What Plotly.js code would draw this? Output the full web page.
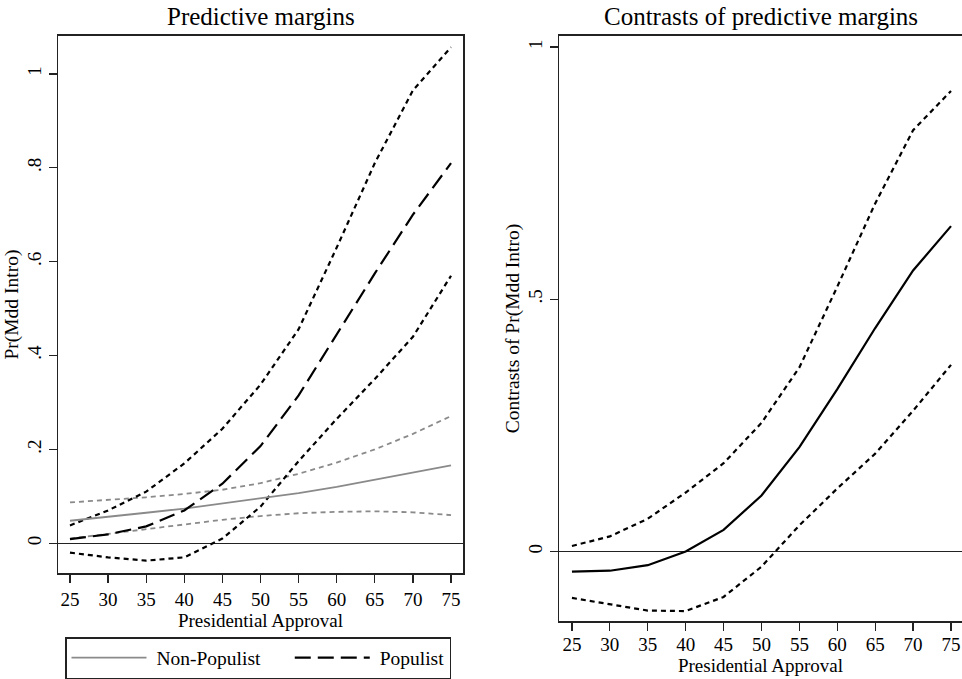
<!DOCTYPE html>
<html>
<head>
<meta charset="utf-8">
<script src="https://cdn.plot.ly/plotly-3.0.1.min.js"></script>
<style>html,body{margin:0;padding:0;background:#fff;}#chart{width:962px;height:679px;}</style>
</head>
<body>
<div id="chart"></div>
<script>
// ---- data ----
var approval = [25, 30, 35, 40, 45, 50, 55, 60, 65, 70, 75];

var nonPopMean  = [0.048, 0.056, 0.065, 0.074, 0.085, 0.096, 0.107, 0.120, 0.135, 0.150, 0.166];
var nonPopUpper = [0.087, 0.092, 0.098, 0.105, 0.114, 0.128, 0.148, 0.172, 0.200, 0.233, 0.271];
var nonPopLower = [0.010, 0.020, 0.030, 0.040, 0.050, 0.058, 0.064, 0.067, 0.068, 0.066, 0.060];

var popMean  = [0.009, 0.019, 0.036, 0.070, 0.127, 0.207, 0.315, 0.445, 0.575, 0.700, 0.810];
var popUpper = [0.038, 0.070, 0.110, 0.170, 0.244, 0.338, 0.456, 0.630, 0.810, 0.965, 1.057];
var popLower = [-0.020, -0.030, -0.037, -0.030, 0.010, 0.078, 0.175, 0.265, 0.350, 0.440, 0.570];

var contrast      = [-0.040, -0.038, -0.027, 0.000, 0.043, 0.111, 0.207, 0.322, 0.443, 0.557, 0.645];
var contrastUpper = [0.011, 0.030, 0.065, 0.117, 0.175, 0.255, 0.365, 0.525, 0.690, 0.835, 0.913];
var contrastLower = [-0.092, -0.105, -0.117, -0.118, -0.090, -0.030, 0.052, 0.125, 0.194, 0.279, 0.370];

var xTicks = [25, 30, 35, 40, 45, 50, 55, 60, 65, 70, 75];
var yTicksLeft = [0, 0.2, 0.4, 0.6, 0.8, 1];
var yTickTextLeft = ['0', '.2', '.4', '.6', '.8', '1'];
var yTicksRight = [0, 0.5, 1];
var yTickTextRight = ['0', '.5', '1'];

// ---- styles ----
var FONT = 'Liberation Serif, Times New Roman, serif';
var GRAY = '#8a8a8a';
var SHORT = '5px,4px';
var LONG = '16px,7px';
var NB = '\u00a0';

function line(x, y, color, dash, width, name, legend, xa, ya) {
  return {
    type: 'scatter', mode: 'lines', x: x, y: y, name: name || '',
    showlegend: !!legend, hoverinfo: 'skip',
    xaxis: xa || 'x', yaxis: ya || 'y',
    line: {color: color, dash: dash, width: width}
  };
}

var traces = [
  line(approval, nonPopUpper, GRAY, SHORT, 1.8),
  line(approval, nonPopLower, GRAY, SHORT, 1.8),
  line(approval, popUpper, '#000', SHORT, 2.2),
  line(approval, popLower, '#000', SHORT, 2.2),
  line(approval, nonPopMean, GRAY, 'solid', 1.8, NB + 'Non-Populist' + NB + NB + NB + NB + NB, true),
  line(approval, popMean, '#000', LONG, 2.2, NB + 'Populist', true),
  line(approval, contrastUpper, '#000', SHORT, 2.2, '', false, 'x2', 'y2'),
  line(approval, contrastLower, '#000', SHORT, 2.2, '', false, 'x2', 'y2'),
  line(approval, contrast, '#000', 'solid', 2.2, '', false, 'x2', 'y2')
];

var axisCommon = {
  showgrid: false, showline: true, linecolor: '#222', linewidth: 1.5,
  ticks: 'outside', ticklen: 8, tickwidth: 1.2, tickcolor: '#222',
  tickfont: {family: FONT, size: 19, color: '#000'},
  zeroline: false, fixedrange: true
};

function merge(a, b) { var o = {}; for (var k in a) o[k] = a[k]; for (var k2 in b) o[k2] = b[k2]; return o; }

var layout = {
  width: 962, height: 679,
  margin: {l: 0, r: 0, t: 0, b: 0},
  paper_bgcolor: '#fff', plot_bgcolor: '#fff',
  font: {family: FONT, color: '#000'},
  xaxis: merge(axisCommon, {
    domain: [58 / 962, 463 / 962], range: [23.43, 76.57], mirror: true,
    tickvals: xTicks, anchor: 'y',
    title: {text: 'Presidential Approval', font: {family: FONT, size: 19}, standoff: 0}
  }),
  yaxis: merge(axisCommon, {
    domain: [(679 - 575) / 679, (679 - 36) / 679], range: [-0.064, 1.081], mirror: true,
    tickvals: yTicksLeft, ticktext: yTickTextLeft, tickangle: -90, anchor: 'x',
    zeroline: true, zerolinecolor: '#222', zerolinewidth: 1.3,
    title: {text: 'Pr(Mdd Intro)', font: {family: FONT, size: 19.5}, standoff: 0}
  }),
  xaxis2: merge(axisCommon, {
    domain: [559 / 962, 1], range: [23.29, 76.45], mirror: true,
    tickvals: xTicks, anchor: 'y2', ticklabelstandoff: -2,
    title: {text: 'Presidential Approval', font: {family: FONT, size: 19}, standoff: 0}
  }),
  yaxis2: merge(axisCommon, {
    domain: [(679 - 623) / 679, (679 - 36) / 679], range: [-0.138, 1.022], mirror: false,
    tickvals: yTicksRight, ticktext: yTickTextRight, tickangle: -90, anchor: 'x2',
    zeroline: true, zerolinecolor: '#222', zerolinewidth: 1.3,
    title: {text: 'Contrasts of Pr(Mdd Intro)', font: {family: FONT, size: 19.5}, standoff: 0}
  }),
  showlegend: true,
  legend: {
    orientation: 'h', x: 65 / 962, xanchor: 'left', y: 1 - 639 / 679, yanchor: 'top',
    bordercolor: '#222', borderwidth: 1.5, bgcolor: 'rgba(255,255,255,0)',
    font: {family: FONT, size: 19.5, color: '#000'},
    itemwidth: 75, traceorder: 'normal', itemclick: false, itemdoubleclick: false
  },
  annotations: [
    {text: 'Predictive margins', xref: 'paper', yref: 'paper', x: (58 + 463) / 2 / 962, y: 1 - 17 / 679,
     xanchor: 'center', yanchor: 'middle', showarrow: false, font: {family: FONT, size: 25, color: '#000'}},
    {text: 'Contrasts of predictive margins', xref: 'paper', yref: 'paper', x: (559 + 962) / 2 / 962, y: 1 - 17 / 679,
     xanchor: 'center', yanchor: 'middle', showarrow: false, font: {family: FONT, size: 25, color: '#000'}}
  ]
};

Plotly.newPlot('chart', traces, layout, {displayModeBar: false, staticPlot: true});
</script>
</body>
</html>
